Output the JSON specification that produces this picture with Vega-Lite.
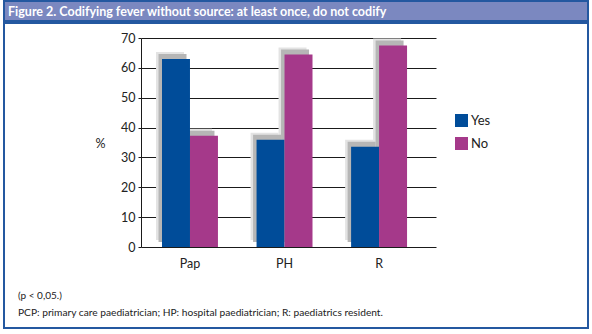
{
  "$schema": "https://vega.github.io/schema/vega-lite/v6.json",
  "padding": {"left": 3, "top": 0, "right": 4, "bottom": 5},
  "spacing": 0,
  "config": {"font": "Lato", "view": {"stroke": null}},
  "vconcat": [
    {
      "width": 584,
      "height": 20,
      "view": {"fill": "#7b88c0", "stroke": "#2458a0", "strokeWidth": 2},
      "title": {
        "text": "Figure 2.  Codifying fever without source: at least once, do not codify",
        "anchor": "start",
        "frame": "group",
        "orient": "top",
        "offset": -17,
        "dx": 4,
        "color": "white",
        "fontSize": 12.5,
        "fontWeight": "bold",
        "font": "Lato"
      },
      "data": {"values": []},
      "mark": "text"
    },
    {
      "width": 584,
      "height": 305,
      "view": {"fill": "white", "stroke": "#2458a0", "strokeWidth": 2},
      "title": {
        "text": "(p < 0,05.)",
        "subtitle": "PCP: primary care paediatrician; HP: hospital paediatrician; R: paediatrics resident.",
        "orient": "bottom",
        "anchor": "start",
        "frame": "group",
        "offset": -37,
        "dx": 14,
        "fontSize": 10,
        "fontWeight": "normal",
        "color": "#222",
        "subtitleFontSize": 10.2,
        "subtitleColor": "#222",
        "subtitlePadding": 7
      },
      "data": {
        "values": [
          {"group": "Pap", "answer": "Yes", "pct": 63},
          {"group": "Pap", "answer": "No", "pct": 37.3},
          {"group": "PH", "answer": "Yes", "pct": 35.9},
          {"group": "PH", "answer": "No", "pct": 64.5},
          {"group": "R", "answer": "Yes", "pct": 33.6},
          {"group": "R", "answer": "No", "pct": 67.5}
        ]
      },
      "encoding": {
        "x": {
          "field": "group",
          "type": "nominal",
          "sort": ["Pap", "PH", "R"],
          "scale": {"range": [137, 432], "paddingInner": 0, "paddingOuter": 0.06, "align": 0.15},
          "axis": {
            "orient": "bottom",
            "offset": -81,
            "title": null,
            "labelAngle": 0,
            "domain": false,
            "ticks": false,
            "grid": false,
            "labelPadding": 10,
            "labelFontSize": 12.5,
            "labelColor": "#222"
          }
        },
        "y": {
          "field": "pct",
          "type": "quantitative",
          "scale": {"domain": [0, 70], "range": [224, 15], "nice": false},
          "axis": {
            "offset": -137,
            "values": [0, 10, 20, 30, 40, 50, 60, 70],
            "title": "%",
            "titleAngle": 0,
            "titleAlign": "center",
            "titleBaseline": "middle",
            "titleX": -41,
            "titleY": 120,
            "titleFontSize": 12.5,
            "titleFontWeight": "normal",
            "titleColor": "#222",
            "labelFontSize": 12.5,
            "labelColor": "#222",
            "labelPadding": 3,
            "tickSize": 3,
            "tickColor": "#1a1a1a",
            "domainColor": "#1a1a1a",
            "grid": true,
            "gridColor": "#1a1a1a",
            "gridOpacity": 1
          }
        }
      },
      "resolve": {"scale": {"xOffset": "independent"}},
      "layer": [
        {
          "mark": {"type": "bar", "color": "#e3e3e3", "yOffset": -7, "y2Offset": 0.1},
          "encoding": {
            "xOffset": {"field": "answer", "type": "nominal", "sort": ["Yes", "No"], "scale": {"paddingInner": 0, "paddingOuter": 0.69, "align": 0.345}}
          }
        },
        {
          "mark": {"type": "bar", "color": "#b6b6b6", "yOffset": -5, "y2Offset": 0.1},
          "encoding": {
            "xOffset": {"field": "answer", "type": "nominal", "sort": ["Yes", "No"], "scale": {"paddingInner": 0, "paddingOuter": 0.69, "align": 0.41}}
          }
        },
        {
          "mark": {"type": "bar"},
          "encoding": {
            "xOffset": {"field": "answer", "type": "nominal", "sort": ["Yes", "No"], "scale": {"paddingInner": 0, "paddingOuter": 0.69, "align": 0.5}},
            "color": {
              "field": "answer",
              "type": "nominal",
              "sort": ["Yes", "No"],
              "scale": {"domain": ["Yes", "No"], "range": ["#004c99", "#a5398a"]},
              "legend": {
                "orient": "none",
                "legendX": 451,
                "legendY": 113,
                "title": null,
                "symbolType": "square",
                "symbolSize": 169,
                "symbolStrokeWidth": 0,
                "labelFontSize": 13,
                "labelColor": "#222",
                "labelOffset": 3,
                "rowPadding": 9,
                "padding": 0
              }
            }
          }
        }
      ]
    }
  ]
}
